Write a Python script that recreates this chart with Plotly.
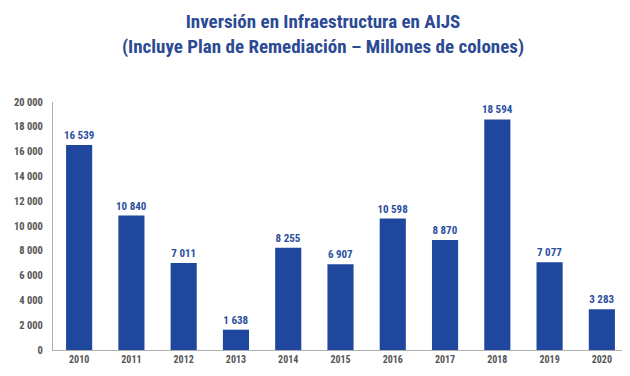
import plotly.graph_objects as go

years = ["2010", "2011", "2012", "2013", "2014", "2015", "2016", "2017", "2018", "2019", "2020"]
values = [16539, 10840, 7011, 1638, 8255, 6907, 10598, 8870, 18594, 7077, 3283]
tick_vals = [0, 2000, 4000, 6000, 8000, 10000, 12000, 14000, 16000, 18000, 20000]
tick_text = ["0", "2 000", "4 000", "6 000", "8 000", "10 000", "12 000", "14 000", "16 000", "18 000", "20 000"]
title_lines = ["Inversión en Infraestructura en AIJS", "(Incluye Plan de Remediación – Millones de colones)"]

bar_color = "#1f479e"
label_color = "#2a4fa0"
FONT = "Roboto Condensed, DejaVu Sans Condensed, sans-serif"

fig = go.Figure(go.Bar(
    x=years, y=values,
    marker=dict(color=bar_color, line=dict(width=0)),
    text=[f"{v:,}".replace(",", " ") for v in values],
    textposition="outside",
    constraintext="none",
    textfont=dict(family=FONT, size=11, color=label_color, weight="bold"),
    cliponaxis=False,
))

fig.update_layout(
    width=630, height=376,
    margin=dict(l=45, r=10, t=94, b=34),
    paper_bgcolor="white", plot_bgcolor="white",
    bargap=0.5,
    showlegend=False,
    title=dict(
        text="<b>" + title_lines[0] + "</b><br><b>" + title_lines[1] + "</b>",
        x=0.5, xanchor="center", yref="container", y=0.946, yanchor="middle",
        font=dict(family=FONT, size=19, color="#2c4a94"),
    ),
    xaxis=dict(
        automargin=False,
        showline=True, linecolor="#b0b0b0", linewidth=1,
        showgrid=False, ticks="",
        tickfont=dict(family=FONT, size=10, color="#555555", weight="bold"),
    ),
    yaxis=dict(
        automargin=False,
        range=[0, 20000],
        tickvals=tick_vals, ticktext=tick_text,
        showline=True, linecolor="#b0b0b0", linewidth=1,
        showgrid=False, zeroline=False,
        ticks="", ticklabelstandoff=7,
        tickfont=dict(family=FONT, size=10.5, color="#555555", weight="bold"),
    ),
)

fig.write_html("out.html")
